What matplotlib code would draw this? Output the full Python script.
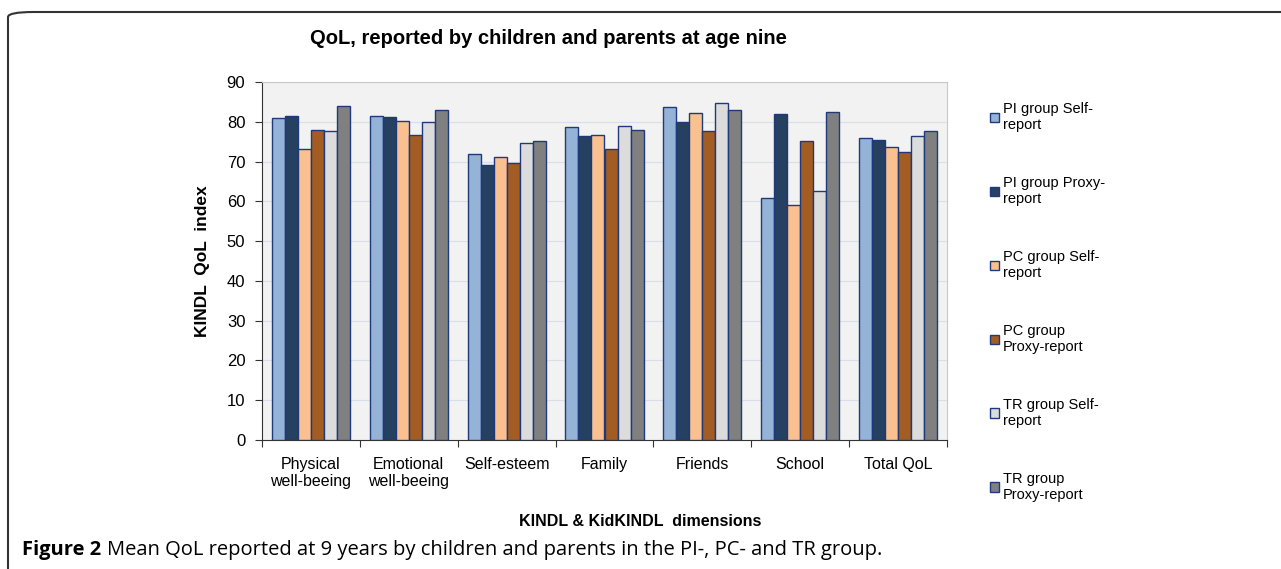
import matplotlib.pyplot as plt
from matplotlib.patches import FancyBboxPatch
import numpy as np

plt.rcParams['font.family'] = ['Liberation Sans', 'DejaVu Sans']

categories = ["Physical\nwell-beeing", "Emotional\nwell-beeing", "Self-esteem",
              "Family", "Friends", "School", "Total QoL"]
series_names = ["PI group Self-\nreport", "PI group Proxy-\nreport",
                "PC group Self-\nreport", "PC group\nProxy-report",
                "TR group Self-\nreport", "TR group\nProxy-report"]

pi_self = [80.9, 81.5, 71.8, 78.6, 83.8, 60.8, 76.0]
pi_proxy = [81.5, 81.2, 69.2, 76.3, 79.9, 81.9, 75.3]
pc_self = [73.1, 80.2, 71.2, 76.7, 82.2, 59.2, 73.7]
pc_proxy = [77.9, 76.7, 69.7, 73.1, 77.7, 75.1, 72.5]
tr_self = [77.6, 79.9, 74.7, 78.9, 84.8, 62.7, 76.3]
tr_proxy = [83.9, 82.9, 75.1, 77.9, 82.9, 82.5, 77.7]

series = [pi_self, pi_proxy, pc_self, pc_proxy, tr_self, tr_proxy]
colors = ["#95B3D7", "#254061", "#FAC090", "#A35C22", "#DCDCDC", "#808080"]

W, H = 1281, 569
fig = plt.figure(figsize=(W / 100, H / 100), dpi=100)

# rounded frame (only top and left edges visible)
frame = FancyBboxPatch((8 / W, -0.2), 1.2, (H - 12) / H + 0.2,
                       boxstyle="round,pad=0,rounding_size=0.02",
                       transform=fig.transFigure, facecolor="none",
                       edgecolor="#333333", linewidth=1.5, mutation_aspect=H / W)
fig.patches.append(frame)

ax = fig.add_axes([262 / W, 1 - 440 / H, (947 - 262) / W, (440 - 82) / H])
ax.set_facecolor("#F2F2F2")

x = np.arange(len(categories)) + 0.5
w = 0.133
for i, (vals, col, name) in enumerate(zip(series, colors, series_names)):
    ax.bar(x + (i - 2.5) * w, vals, width=w, color=col, edgecolor="#1F3A7A",
           linewidth=1.0, label=name, zorder=3)

ax.set_xlim(0, 7)
ax.set_ylim(0, 90)
ax.set_yticks(range(0, 91, 10))
ax.yaxis.grid(True, color="#D8DEEA", linewidth=0.8, zorder=0)
ax.set_xticks(range(0, 8))
ax.set_xticklabels([])
ax.set_xticks(x, minor=True)
ax.set_xticklabels(categories, minor=True, fontsize=11.5)
ax.tick_params(axis="x", which="minor", length=0, pad=12)
ax.tick_params(axis="x", which="major", length=5, direction="out", color="#333333")
ax.tick_params(axis="y", length=5, direction="out", labelsize=12, pad=7, color="#333333")

for s in ["top", "right"]:
    ax.spines[s].set_color("#C8C8C8")
for s in ["left", "bottom"]:
    ax.spines[s].set_color("#333333")

ax.set_ylabel("KINDL  QoL  index", fontsize=12.5, fontweight="bold", labelpad=12)
fig.text(640 / W, 1 - 521 / H, "KINDL & KidKINDL  dimensions", fontsize=11.5,
         fontweight="bold", ha="center", va="center")
fig.text(548 / W, 1 - 38 / H, "QoL, reported by children and parents at age nine",
         fontsize=14.5, fontweight="bold", ha="center", va="center")

ax.legend(loc="upper left", bbox_to_anchor=(984 / W, 1 - 96 / H),
          bbox_transform=fig.transFigure, frameon=False, fontsize=10.5,
          handlelength=0.6, handleheight=0.6, handletextpad=0.3,
          labelspacing=3.0, borderaxespad=0)

cap1 = fig.text(22 / W, 1 - 550 / H, "Figure 2", fontsize=14.5, fontweight="bold",
                family="Open Sans", ha="left", va="center")
fig.canvas.draw()
bb = cap1.get_window_extent()
fig.text((bb.x1 + 6) / W, 1 - 550 / H,
         "Mean QoL reported at 9 years by children and parents in the PI-, PC- and TR group.",
         fontsize=14.5, family="Open Sans", ha="left", va="center")

fig.savefig("out.png", dpi=100)
